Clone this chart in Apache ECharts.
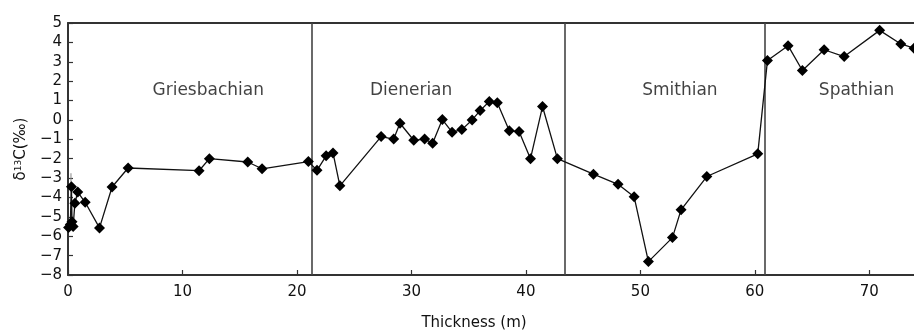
<!DOCTYPE html>
<html><head><meta charset="utf-8">
<script src="https://cdn.jsdelivr.net/npm/echarts@6/dist/echarts.min.js"></script>
<style>html,body{margin:0;padding:0;background:#fff}#c{width:914px;height:332px}</style>
</head><body><div id="c"></div>
<script>
// Thickness (m) and δ13C (‰) values
const thickness = [0.05, 0.2, 0.3, 0.35, 0.45, 0.6, 0.85, 1.5, 2.75, 3.85, 5.25, 11.45, 12.35, 15.7, 16.95,
  21.0, 21.75, 22.55, 23.15, 23.75, 27.35, 28.45, 29.0, 30.2, 31.15, 31.85, 32.7, 33.55, 34.4, 35.3, 36.0,
  36.8, 37.5, 38.55, 39.4, 40.4, 41.45, 42.75, 45.9, 48.05, 49.45, 50.7, 52.8, 53.55, 55.8, 60.25, 61.1,
  62.9, 64.15, 66.05, 67.8, 70.9, 72.75, 73.9];
const d13C = [-5.55, -5.4, -3.45, -5.25, -5.5, -4.3, -3.72, -4.25, -5.57, -3.46, -2.48, -2.62, -2.0, -2.17, -2.52,
  -2.15, -2.6, -1.85, -1.7, -3.4, -0.86, -0.99, -0.17, -1.05, -0.99, -1.2, 0.02, -0.63, -0.5, 0.0, 0.48,
  0.95, 0.88, -0.56, -0.6, -2.0, 0.69, -2.0, -2.8, -3.32, -3.96, -7.31, -6.07, -4.64, -2.92, -1.75, 3.07,
  3.83, 2.55, 3.62, 3.27, 4.62, 3.92, 3.7];
// thin whisker near the base
const whiskerX = [0.26, 0.26];
const whiskerY = [-2.75, -5.68];
// stage boundaries and stage labels
const boundaryX = [21.3, 43.4, 60.9];
const stageNames = ['Griesbachian', 'Dienerian', 'Smithian', 'Spathian'];
const stageX = [12.25, 29.97, 53.45, 68.88];
const stageY = [1.5, 1.5, 1.5, 1.5];
// axes
const xMin = 0, xMax = 73.9, xStep = 10;
const yMin = -8, yMax = 5, yStep = 1;

const FONT = 'DejaVu Sans';
const chart = echarts.init(document.getElementById('c'), null, {renderer: 'canvas'});
const axisColor = '#333';
chart.setOption({
  animation: false,
  backgroundColor: '#fff',
  textStyle: {fontFamily: FONT},
  grid: {left: 68, top: 23, right: 0, bottom: 57, containLabel: false, outerBoundsMode: 'none'},
  xAxis: [{
    type: 'value', min: xMin, max: xMax, interval: xStep,
    axisLine: {show: true, onZero: false, lineStyle: {color: axisColor, width: 2}},
    axisTick: {show: true, inside: true, length: 5, lineStyle: {color: axisColor, width: 1.2}},
    axisLabel: {show: true, margin: 10, color: '#111', fontSize: 15, fontFamily: FONT,
      showMaxLabel: false},
    splitLine: {show: false},
    name: 'Thickness (m)', nameLocation: 'middle', nameGap: 41,
    nameTextStyle: {color: '#111', fontSize: 15, fontFamily: FONT, padding: [0, 34, 0, 0]}
  }, {
    type: 'value', position: 'top', min: xMin, max: xMax,
    axisLine: {show: true, onZero: false, lineStyle: {color: axisColor, width: 2}},
    axisTick: {show: false}, axisLabel: {show: false}, splitLine: {show: false}
  }],
  yAxis: {
    type: 'value', min: yMin, max: yMax, interval: yStep,
    axisLine: {show: true, onZero: false, lineStyle: {color: axisColor, width: 2}},
    axisTick: {show: true, inside: true, length: 5, lineStyle: {color: axisColor, width: 1.2}},
    axisLabel: {margin: 6, color: '#111', fontSize: 15, fontFamily: FONT,
      formatter: v => String(v).replace('-', '\u2212')},
    splitLine: {show: false},
    name: '{a|δ}{s|13}{a|C(‰)}', nameLocation: 'middle', nameGap: 35, nameRotate: 90,
    nameTextStyle: {rich: {
      a: {fontSize: 15, fontFamily: FONT, color: '#111'},
      s: {fontSize: 9, fontFamily: FONT, color: '#111', verticalAlign: 'top', lineHeight: 15, padding: [0, 0, 6, 0]}
    }}
  },
  series: [{
    type: 'line', xAxisIndex: 0,
    data: thickness.map((x, i) => [x, d13C[i]]),
    symbol: 'diamond', symbolSize: 11,
    itemStyle: {color: '#000'},
    lineStyle: {color: '#111', width: 1.3},
    z: 5,
    markLine: {
      silent: true, symbol: 'none', label: {show: false},
      lineStyle: {color: '#444', width: 1.6, type: 'solid'},
      data: boundaryX.map(x => ({xAxis: x}))
    }
  }, {
    type: 'line', xAxisIndex: 0,
    data: whiskerX.map((x, i) => [x, whiskerY[i]]),
    symbol: 'none', lineStyle: {color: '#888', width: 1}, z: 3
  }, {
    type: 'scatter', xAxisIndex: 0,
    data: stageX.map((x, i) => ({value: [x, stageY[i]], name: stageNames[i]})),
    symbolSize: 0,
    label: {show: true, position: 'inside', formatter: p => p.name,
      fontSize: 17, fontFamily: FONT, color: '#111'}
  }]
});
</script></body></html>
